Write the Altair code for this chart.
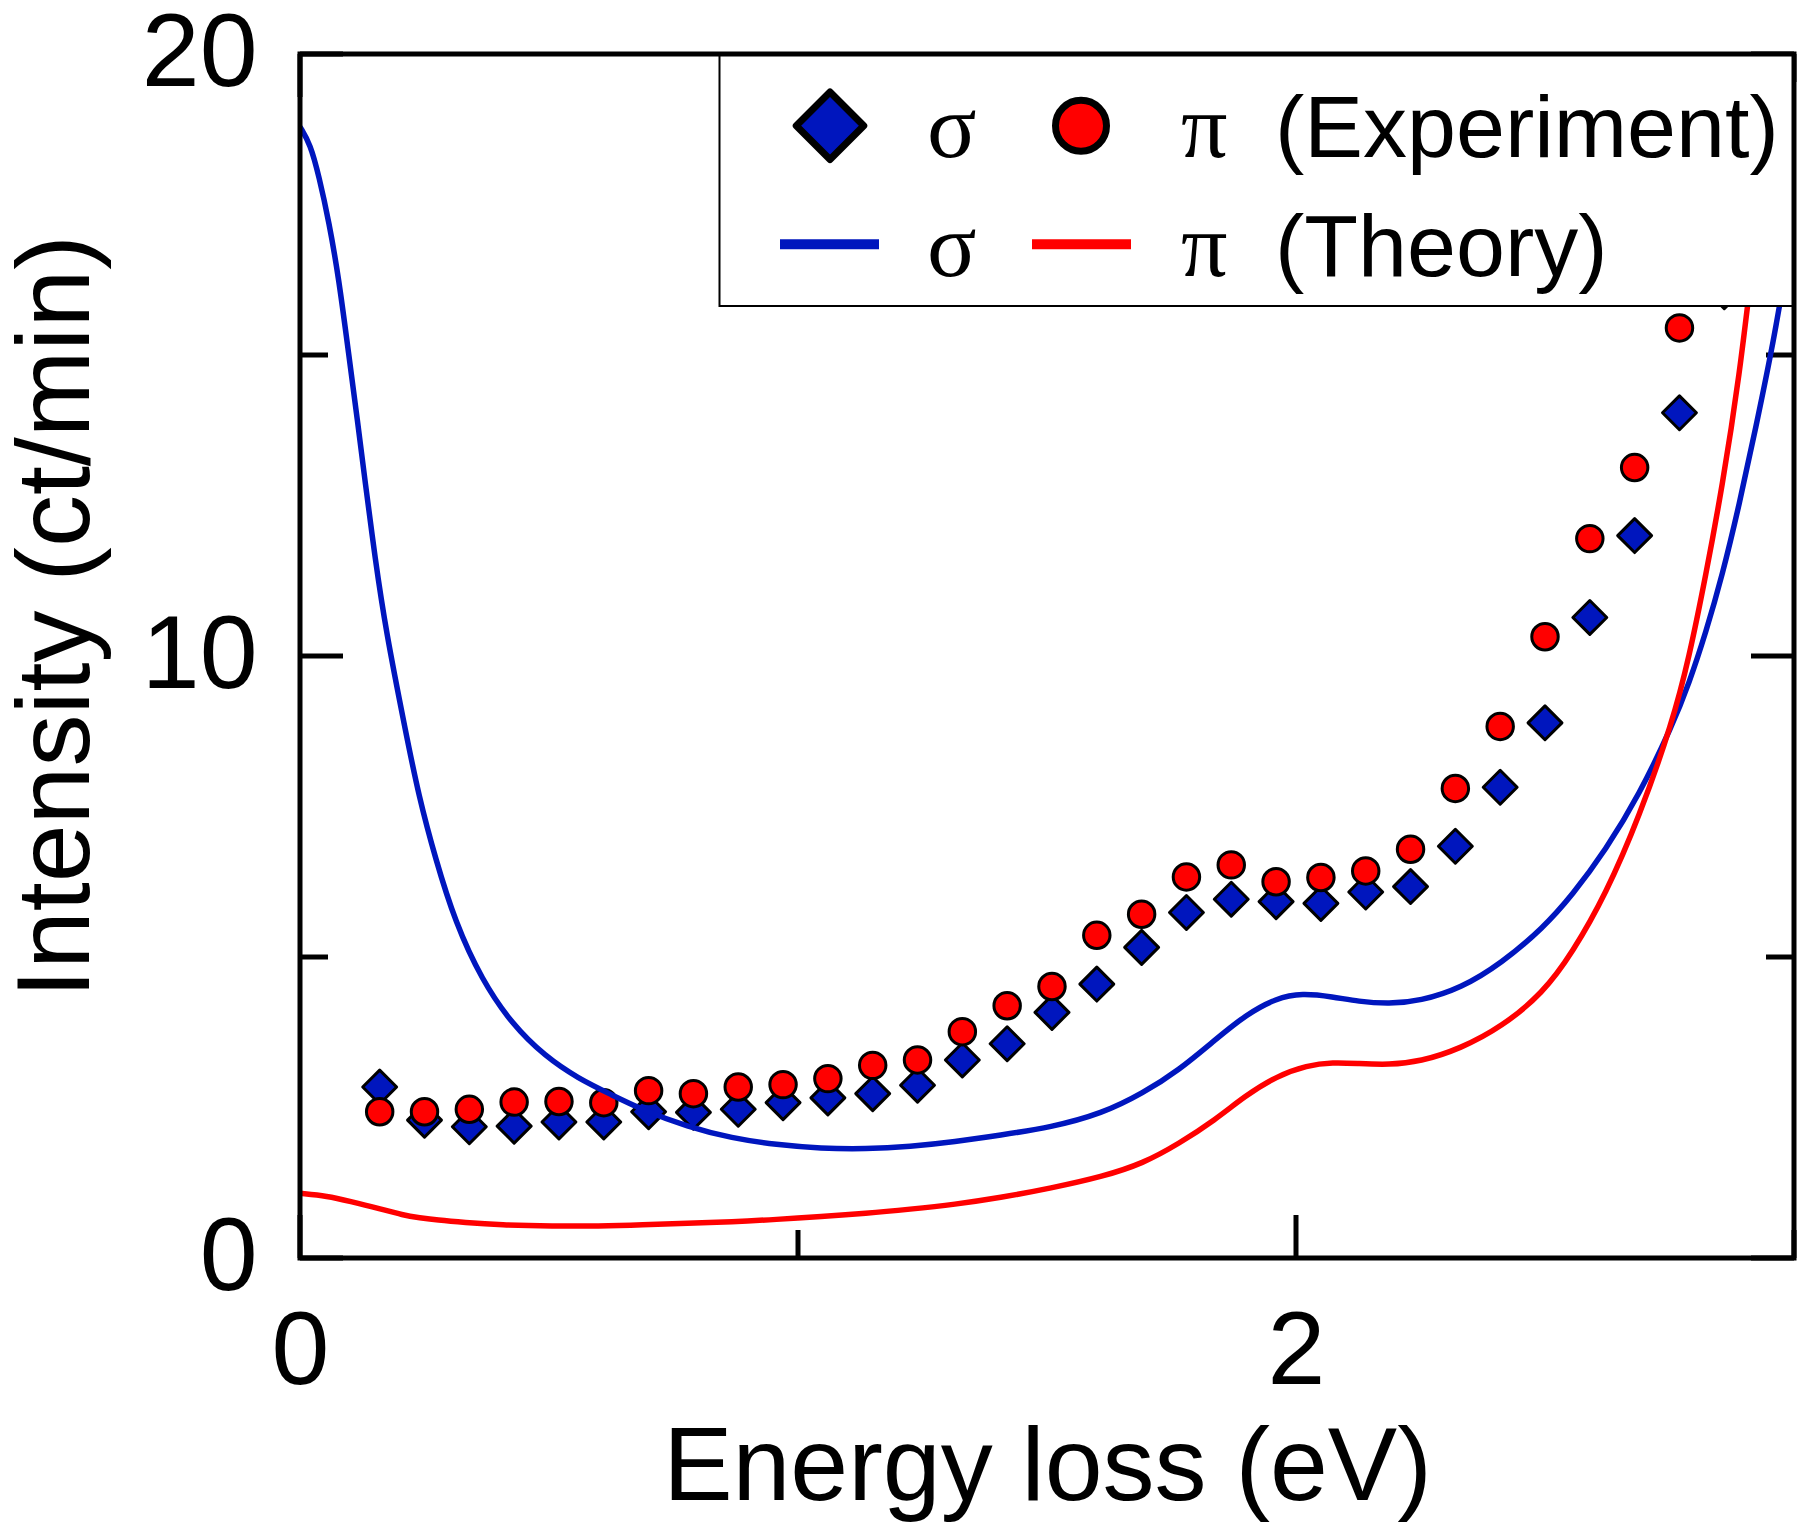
import altair as alt
import pandas as pd

# ---------------- data ----------------
# Experimental spectra (energy loss in eV, intensity in ct/min)
exp_sigma_x = [0.16, 0.25, 0.34, 0.43, 0.52, 0.61, 0.70, 0.79, 0.88, 0.97,
               1.06, 1.15, 1.24, 1.33, 1.42, 1.51, 1.60, 1.69, 1.78, 1.87,
               1.96, 2.05, 2.14, 2.23, 2.32, 2.41, 2.50, 2.59, 2.68, 2.77, 2.86]
exp_sigma_y = [2.84, 2.29, 2.18, 2.19, 2.26, 2.26, 2.43, 2.42, 2.47, 2.58,
               2.66, 2.73, 2.87, 3.29, 3.56, 4.08, 4.55, 5.16, 5.74, 5.96,
               5.92, 5.89, 6.08, 6.17, 6.84, 7.82, 8.89, 10.64, 12.00, 14.04, 16.05]

exp_pi_x = [0.16, 0.25, 0.34, 0.43, 0.52, 0.61, 0.70, 0.79, 0.88, 0.97,
            1.06, 1.15, 1.24, 1.33, 1.42, 1.51, 1.60, 1.69, 1.78, 1.87,
            1.96, 2.05, 2.14, 2.23, 2.32, 2.41, 2.50, 2.59, 2.68, 2.77]
exp_pi_y = [2.43, 2.43, 2.47, 2.59, 2.60, 2.58, 2.78, 2.73, 2.84, 2.88,
            2.98, 3.20, 3.29, 3.76, 4.19, 4.51, 5.36, 5.71, 6.33, 6.53,
            6.25, 6.32, 6.43, 6.79, 7.80, 8.83, 10.32, 11.95, 13.13, 15.45]

# Calculated spectra
theory_sigma_x = [0.0, 0.021, 0.038, 0.058, 0.078, 0.098, 0.115, 0.131, 0.151, 0.172,
                  0.212, 0.238, 0.272, 0.312, 0.365, 0.426, 0.492, 0.559, 0.626, 0.688,
                  0.778, 0.867, 0.957, 1.046, 1.136, 1.225, 1.315, 1.405, 1.508, 1.611,
                  1.693, 1.765, 1.837, 1.899, 1.961, 2.012, 2.074, 2.125, 2.187, 2.249,
                  2.331, 2.413, 2.496, 2.555, 2.622, 2.689, 2.756, 2.789, 2.823, 2.856,
                  2.890, 2.923, 2.957, 2.977, 3.0]
theory_sigma_y = [18.79, 18.50, 17.97, 17.22, 16.27, 15.00, 13.94, 12.88, 11.61, 10.44,
                  8.75, 7.69, 6.63, 5.57, 4.62, 3.88, 3.35, 2.98, 2.71, 2.46,
                  2.18, 1.99, 1.88, 1.82, 1.81, 1.85, 1.93, 2.04, 2.17, 2.40,
                  2.74, 3.12, 3.62, 4.04, 4.32, 4.40, 4.34, 4.26, 4.22, 4.27,
                  4.48, 4.90, 5.48, 6.03, 6.78, 7.69, 8.85, 9.54, 10.39, 11.34,
                  12.51, 13.78, 15.15, 16.11, 17.20]

theory_pi_x = [0.0, 0.055, 0.101, 0.155, 0.208, 0.240, 0.275, 0.330, 0.402, 0.509,
               0.599, 0.688, 0.778, 0.867, 0.957, 1.046, 1.136, 1.225, 1.315, 1.405,
               1.508, 1.611, 1.693, 1.765, 1.837, 1.899, 1.961, 2.022, 2.074, 2.125,
               2.187, 2.249, 2.331, 2.413, 2.496, 2.555, 2.622, 2.689, 2.756, 2.789,
               2.823, 2.856, 2.890, 2.920, 2.950, 2.975]
theory_pi_y = [1.075, 1.03, 0.94, 0.83, 0.71, 0.67, 0.63, 0.59, 0.55, 0.53,
               0.53, 0.55, 0.58, 0.60, 0.64, 0.69, 0.74, 0.81, 0.89, 1.00,
               1.16, 1.35, 1.57, 1.90, 2.29, 2.70, 3.02, 3.20, 3.25, 3.23,
               3.21, 3.26, 3.48, 3.84, 4.40, 5.07, 6.04, 7.32, 8.90, 9.96,
               11.34, 12.82, 14.62, 16.74, 18.90, 21.00]

# Axis ticks
x_major = [0, 2]
x_minor = [1, 3]
y_major = [0, 10, 20]
y_minor = [5, 15]

# ---------------- styling ----------------
W, H = 1494, 1204
SANS = "Liberation Sans"
SERIF = "Liberation Serif"
BLUE = "#0016BE"
RED = "#FF0000"
MAJOR_LEN, MINOR_LEN = 43, 28

xs = alt.Scale(domain=[0, 3], nice=False, zero=False)
ys = alt.Scale(domain=[0, 20], nice=False, zero=False)

x_axis = alt.Axis(values=x_major, format="d", title="Energy loss (eV)",
                  grid=False, domain=False, ticks=False, tickSize=0,
                  labelFont=SANS, labelFontSize=104, labelColor="black",
                  labelPadding=43, labelFlush=False, labelOverlap=False,
                  titleFont=SANS, titleFontSize=104, titleFontWeight="normal",
                  titleColor="black", titleX=747, titleY=241,
                  titleBaseline="alphabetic", titleAlign="center")
y_axis = alt.Axis(values=y_major, format="d", title="Intensity (ct/min)",
                  grid=False, domain=False, ticks=False, tickSize=0,
                  labelFont=SANS, labelFontSize=104, labelColor="black",
                  labelPadding=43, labelFlush=False, labelOverlap=False,
                  titleFont=SANS, titleFontSize=104, titleFontWeight="normal",
                  titleColor="black", titleX=-212, titleY=562,
                  titleAngle=270, titleBaseline="alphabetic", titleAlign="center")

X = alt.X("x:Q", scale=xs, axis=x_axis)
Y = alt.Y("y:Q", scale=ys, axis=y_axis)

one = pd.DataFrame({"k": [0]})

# ---------------- tick marks (drawn inward on all four sides) ----------------
def y_ticks(values, length):
    df = pd.DataFrame({"y": values})
    left = alt.Chart(df).mark_rule(color="black", strokeWidth=5).encode(
        y=Y, x=alt.value(0), x2=alt.value(length))
    right = alt.Chart(df).mark_rule(color="black", strokeWidth=5).encode(
        y=Y, x=alt.value(W), x2=alt.value(W - length))
    return [left, right]


def x_ticks(values, length):
    df = pd.DataFrame({"x": values})
    bottom = alt.Chart(df).mark_rule(color="black", strokeWidth=5).encode(
        x=X, y=alt.value(H), y2=alt.value(H - length))
    top = alt.Chart(df).mark_rule(color="black", strokeWidth=5).encode(
        x=X, y=alt.value(0), y2=alt.value(length))
    return [bottom, top]


ticks = (y_ticks(y_major, MAJOR_LEN) + y_ticks(y_minor, MINOR_LEN)
         + x_ticks(x_major, MAJOR_LEN) + x_ticks(x_minor, MINOR_LEN))

# ---------------- data marks ----------------
sigma_pts = alt.Chart(pd.DataFrame({"x": exp_sigma_x, "y": exp_sigma_y})).mark_point(
    shape="diamond", filled=True, fill=BLUE, stroke="black", strokeWidth=3,
    strokeJoin="round", size=1150, opacity=1, fillOpacity=1, clip=True
).encode(x=X, y=Y)

pi_pts = alt.Chart(pd.DataFrame({"x": exp_pi_x, "y": exp_pi_y})).mark_point(
    shape="circle", filled=True, fill=RED, stroke="black", strokeWidth=3,
    size=700, opacity=1, fillOpacity=1, clip=True
).encode(x=X, y=Y)

sigma_line = alt.Chart(pd.DataFrame({"x": theory_sigma_x, "y": theory_sigma_y})).mark_line(
    color=BLUE, strokeWidth=5.5, interpolate="basis", clip=True
).encode(x=X, y=Y)

pi_line = alt.Chart(pd.DataFrame({"x": theory_pi_x, "y": theory_pi_y})).mark_line(
    color=RED, strokeWidth=5.5, interpolate="basis", clip=True
).encode(x=X, y=Y)

# ---------------- legend box ----------------
legend_box = alt.Chart(one).mark_rect(fill="white", stroke="black", strokeWidth=2).encode(
    x=alt.value(419.5), x2=alt.value(W), y=alt.value(0), y2=alt.value(252))

ROW1, ROW2 = 102.7, 221.5
leg_diamond = alt.Chart(one).mark_point(
    shape="diamond", filled=True, fill=BLUE, stroke="black", strokeWidth=7,
    strokeJoin="round", size=4556, opacity=1
).encode(x=alt.value(530), y=alt.value(71.7))
leg_circle = alt.Chart(one).mark_point(
    shape="circle", filled=True, fill=RED, stroke="black", strokeWidth=7,
    size=2601, opacity=1
).encode(x=alt.value(781), y=alt.value(71.7))
leg_blue = alt.Chart(one).mark_rule(color=BLUE, strokeWidth=10).encode(
    x=alt.value(480), x2=alt.value(579), y=alt.value(190.3))
leg_red = alt.Chart(one).mark_rule(color=RED, strokeWidth=10).encode(
    x=alt.value(732), x2=alt.value(831), y=alt.value(190.3))


def label(text, x, y, font, size):
    return alt.Chart(one).mark_text(
        text=text, font=font, fontSize=size, align="left",
        baseline="alphabetic", color="black"
    ).encode(x=alt.value(x), y=alt.value(y))


legend_texts = [
    label("σ", 627, ROW1, SERIF, 92),
    label("π", 881, ROW1, SERIF, 92),
    label("(Experiment)", 975, ROW1, SANS, 88),
    label("σ", 627, ROW2, SERIF, 92),
    label("π", 881, ROW2, SERIF, 92),
    label("(Theory)", 975, ROW2, SANS, 88),
]

# ---------------- plot frame ----------------
frame = alt.Chart(one).mark_rect(fill="white", fillOpacity=0, stroke="black", strokeWidth=5).encode(
    x=alt.value(0), x2=alt.value(W), y=alt.value(0), y2=alt.value(H))

chart = alt.layer(
    *ticks, sigma_pts, pi_pts, sigma_line, pi_line,
    legend_box, leg_diamond, leg_circle, leg_blue, leg_red, *legend_texts,
    frame
).properties(
    width=W, height=H,
    autosize=alt.AutoSizeParams(type="none"),
    padding={"left": 300, "top": 54, "right": 10, "bottom": 270},
    background="white",
).configure_view(stroke=None)

chart.save("out.html", embed_options={"renderer": "svg", "actions": False})
